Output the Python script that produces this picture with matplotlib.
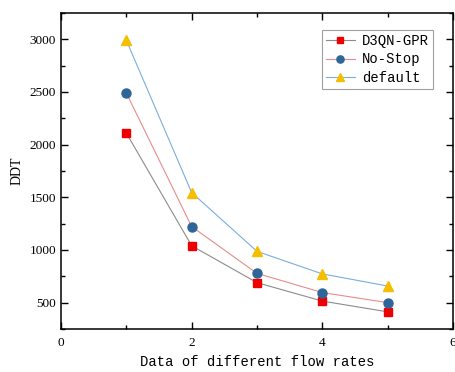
import matplotlib
matplotlib.use("Agg")
import matplotlib.pyplot as plt
from matplotlib.ticker import MultipleLocator

# data
flow = [1, 2, 3, 4, 5]
d3qn_gpr = [2110, 1040, 690, 515, 413]
no_stop = [2490, 1222, 778, 596, 500]
default = [2990, 1545, 987, 773, 658]

fig = plt.figure(figsize=(4.56, 3.72), dpi=100)
ax = fig.add_axes([61/456, 1-329/372, 392/456, 316/372])

ax.plot(flow, d3qn_gpr, color='#8c8c8c', lw=0.8, marker='s', ms=6,
        mfc='#ee0000', mec='#ee0000', label='D3QN-GPR')
ax.plot(flow, no_stop, color='#e88c8c', lw=0.8, marker='o', ms=6.5,
        mfc='#2f6699', mec='#2f6699', label='No-Stop')
ax.plot(flow, default, color='#7aaedc', lw=0.8, marker='^', ms=7,
        mfc='#f5be00', mec='#f5be00', label='default')

ax.set_xlim(0, 6)
ax.set_ylim(250, 3250)
ax.xaxis.set_major_locator(MultipleLocator(2))
ax.xaxis.set_minor_locator(MultipleLocator(1))
ax.yaxis.set_major_locator(MultipleLocator(500))
ax.yaxis.set_minor_locator(MultipleLocator(250))
ax.set_yticks([500, 1000, 1500, 2000, 2500, 3000])
ax.tick_params(which='both', direction='in', top=True, right=True, width=1)
ax.tick_params(which='major', length=5)
ax.tick_params(which='minor', length=3)
for lab in ax.get_xticklabels() + ax.get_yticklabels():
    lab.set_family('Liberation Serif')
    lab.set_fontsize(9.5)
ax.tick_params(axis='x', pad=6)
for s in ax.spines.values():
    s.set_linewidth(1.1)

ax.set_xlabel('Data of different flow rates', family='Liberation Mono', fontsize=10)
ax.set_ylabel('DDT', family='Liberation Serif', fontsize=10)

leg = ax.legend(loc='upper right', bbox_to_anchor=(0.949, 0.946),
                prop={'family': 'Liberation Mono', 'size': 10},
                frameon=True, fancybox=False, edgecolor='#888888',
                markerscale=0.8, handlelength=2.1, handletextpad=0.5,
                borderpad=0.3, labelspacing=0.3, borderaxespad=0)
leg.get_frame().set_linewidth(0.8)

fig.savefig('out.png', dpi=100)
